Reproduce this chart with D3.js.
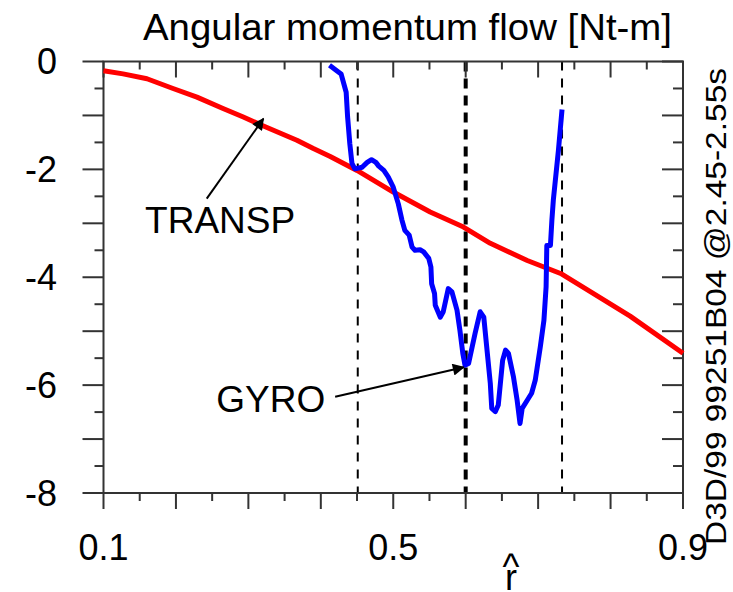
<!DOCTYPE html>
<html>
<head>
<meta charset="utf-8">
<script src="https://cdn.jsdelivr.net/npm/d3@7/dist/d3.min.js"></script>
<style>
  html, body { margin: 0; padding: 0; background: #fff; }
  svg text { font-family: "Liberation Sans", Arial, Helvetica, sans-serif; fill: #000; }
</style>
</head>
<body>
<svg id="chart" width="733" height="592"></svg>
<script>
// ---- Data ----
const titleText = "Angular momentum flow [Nt-m]";
const sideText = "D3D/99 99251B04  @2.45-2.55s";
const xAxisSymbol = "r";
const xAxisAccent = "^";
const xTickLabels = ["0.1", "0.5", "0.9"];
const xTickLabelValues = [0.1, 0.5, 0.9];
const yTickLabels = ["0", "-2", "-4", "-6", "-8"];
const yTickLabelValues = [0, -2, -4, -6, -8];

// TRANSP (red)
const transpR = [0.100, 0.127, 0.160, 0.196, 0.229, 0.265, 0.293, 0.320, 0.367, 0.389, 0.413, 0.450, 0.500, 0.551, 0.597, 0.634, 0.685, 0.731, 0.758, 0.827, 0.900];
const transpV = [-0.17, -0.23, -0.32, -0.50, -0.66, -0.87, -1.03, -1.19, -1.46, -1.61, -1.76, -2.02, -2.42, -2.79, -3.07, -3.37, -3.69, -3.93, -4.15, -4.72, -5.41];

// GYRO (blue)
const gyroR = [0.412, 0.422, 0.428, 0.435, 0.437, 0.440, 0.443, 0.447, 0.457, 0.464, 0.470, 0.476, 0.480, 0.487, 0.493, 0.500, 0.507, 0.512, 0.516, 0.522, 0.526, 0.530, 0.537, 0.542, 0.549, 0.552, 0.553, 0.557, 0.558, 0.565, 0.569, 0.576, 0.581, 0.588, 0.592, 0.596, 0.599, 0.604, 0.613, 0.620, 0.625, 0.629, 0.634, 0.636, 0.641, 0.645, 0.651, 0.655, 0.659, 0.666, 0.671, 0.675, 0.678, 0.685, 0.691, 0.696, 0.703, 0.708, 0.711, 0.712, 0.717, 0.719, 0.721, 0.728, 0.733];
const gyroV = [-0.07, -0.17, -0.23, -0.57, -1.03, -1.52, -1.89, -1.99, -1.96, -1.87, -1.82, -1.87, -1.94, -2.02, -2.14, -2.33, -2.64, -2.94, -3.13, -3.22, -3.44, -3.50, -3.49, -3.53, -3.65, -3.81, -4.12, -4.30, -4.52, -4.74, -4.64, -4.21, -4.27, -4.61, -4.98, -5.41, -5.63, -5.60, -5.04, -4.64, -4.74, -5.29, -5.97, -6.43, -6.49, -6.37, -5.54, -5.35, -5.41, -5.85, -6.28, -6.71, -6.43, -6.28, -6.15, -5.91, -5.29, -4.80, -4.18, -3.41, -3.41, -2.94, -2.57, -1.65, -0.89];

// vertical dashed reference lines
const dashR = [0.451, 0.600, 0.733];
const dashBold = [false, true, false];

// annotations
const annLabels = ["TRANSP", "GYRO"];
const annTextR = [0.261, 0.331];
const annTextV = [-3.185, -6.506];
const annTailR = [0.2425, 0.4198];
const annTailV = [-2.543, -6.217];
const annTipR = [0.3207, 0.5972];
const annTipV = [-1.061, -5.667];

// ---- Layout ----
const svg = d3.select("#chart");
const x = d3.scaleLinear().domain([0.1, 0.9]).range([103.5, 683]);
const y = d3.scaleLinear().domain([0, -8]).range([61.5, 493]);
const axisColor = "#333";

svg.append("defs").append("marker")
  .attr("id", "arrow").attr("viewBox", "0 0 10 10")
  .attr("refX", 9).attr("refY", 5)
  .attr("markerWidth", 7).attr("markerHeight", 6)
  .attr("markerUnits", "strokeWidth")
  .attr("orient", "auto")
  .append("path").attr("d", "M0,0 L10,5 L0,10 z").attr("fill", "#000");

// dashed lines
svg.append("g").selectAll("line").data(dashR).join("line")
  .attr("x1", d => x(d)).attr("x2", d => x(d))
  .attr("y1", y(0)).attr("y2", y(-8))
  .attr("stroke", "#000")
  .attr("stroke-width", (d, i) => dashBold[i] ? 4 : 2)
  .attr("stroke-dasharray", (d, i) => dashBold[i] ? "10,7" : "9,8");

// axes
const xTicks = d3.range(0, 17).map(i => +(0.1 + i * 0.05).toFixed(2));
const yTicks = d3.range(0, 17).map(i => -i * 0.5);
const isMajorX = d => Math.abs(d * 10 - Math.round(d * 10)) < 1e-6;
const isMajorY = d => Math.abs(d - Math.round(d)) < 1e-6;

const axes = svg.append("g").attr("stroke", axisColor).attr("stroke-width", 2).attr("fill", "none");
axes.append("rect").attr("x", x(0.1)).attr("y", y(0)).attr("width", x(0.9) - x(0.1)).attr("height", y(-8) - y(0));

axes.selectAll(".bt").data(xTicks).join("line").attr("class", "bt")
  .attr("x1", d => x(d)).attr("x2", d => x(d))
  .attr("y1", y(-8)).attr("y2", d => y(-8) + (isMajorX(d) ? 16 : 8));
axes.selectAll(".tt").data(xTicks).join("line").attr("class", "tt")
  .attr("x1", d => x(d)).attr("x2", d => x(d))
  .attr("y1", y(0)).attr("y2", d => y(0) + (isMajorX(d) ? 16 : 8));
axes.selectAll(".lt").data(yTicks).join("line").attr("class", "lt")
  .attr("y1", d => y(d)).attr("y2", d => y(d))
  .attr("x1", x(0.1)).attr("x2", d => x(0.1) - (isMajorY(d) ? 21 : 9));
axes.selectAll(".rt").data(yTicks).join("line").attr("class", "rt")
  .attr("y1", d => y(d)).attr("y2", d => y(d))
  .attr("x1", x(0.9)).attr("x2", d => x(0.9) - (isMajorY(d) ? 21 : 10));

// tick labels
svg.append("g").selectAll("text").data(xTickLabelValues).join("text")
  .attr("x", d => x(d)).attr("y", 560)
  .attr("text-anchor", "middle").attr("font-size", 36)
  .text((d, i) => xTickLabels[i]);
svg.append("g").selectAll("text").data(yTickLabelValues).join("text")
  .attr("x", 57).attr("y", d => y(d)).attr("dy", "0.36em")
  .attr("text-anchor", "end").attr("font-size", 36)
  .text((d, i) => yTickLabels[i]);

// x axis label: r with hat, as one text element
const xl = svg.append("text").attr("text-anchor", "middle").attr("font-size", 36);
xl.append("tspan").attr("x", 511).attr("y", 579).text(xAxisAccent);
xl.append("tspan").attr("x", 511).attr("y", 590).text(xAxisSymbol);

// title
svg.append("text").attr("x", 407.5).attr("y", 40).attr("text-anchor", "middle")
  .attr("font-size", 37).attr("textLength", 529).attr("lengthAdjust", "spacingAndGlyphs").text(titleText);

// side text
svg.append("text").attr("transform", "translate(726,306.5) rotate(-90)")
  .attr("text-anchor", "middle").attr("font-size", 29)
  .attr("textLength", 477).attr("lengthAdjust", "spacingAndGlyphs").text(sideText);

// lines
const line = d3.line().x(d => x(d[0])).y(d => y(d[1]));
svg.append("path").datum(d3.zip(transpR, transpV))
  .attr("d", line).attr("fill", "none").attr("stroke", "#ff0000")
  .attr("stroke-width", 5).attr("stroke-linejoin", "round");
svg.append("path").datum(d3.zip(gyroR, gyroV))
  .attr("d", line).attr("fill", "none").attr("stroke", "#0000ff")
  .attr("stroke-width", 5).attr("stroke-linejoin", "round");

// annotations
const ann = svg.append("g");
ann.selectAll("line").data(annLabels).join("line")
  .attr("x1", (d, i) => x(annTailR[i])).attr("y1", (d, i) => y(annTailV[i]))
  .attr("x2", (d, i) => x(annTipR[i])).attr("y2", (d, i) => y(annTipV[i]))
  .attr("stroke", "#000").attr("stroke-width", 2).attr("marker-end", "url(#arrow)");
ann.selectAll("text").data(annLabels).join("text")
  .attr("x", (d, i) => x(annTextR[i])).attr("y", (d, i) => y(annTextV[i]))
  .attr("text-anchor", "middle").attr("font-size", 37)
  .text(d => d);
</script>
</body>
</html>
